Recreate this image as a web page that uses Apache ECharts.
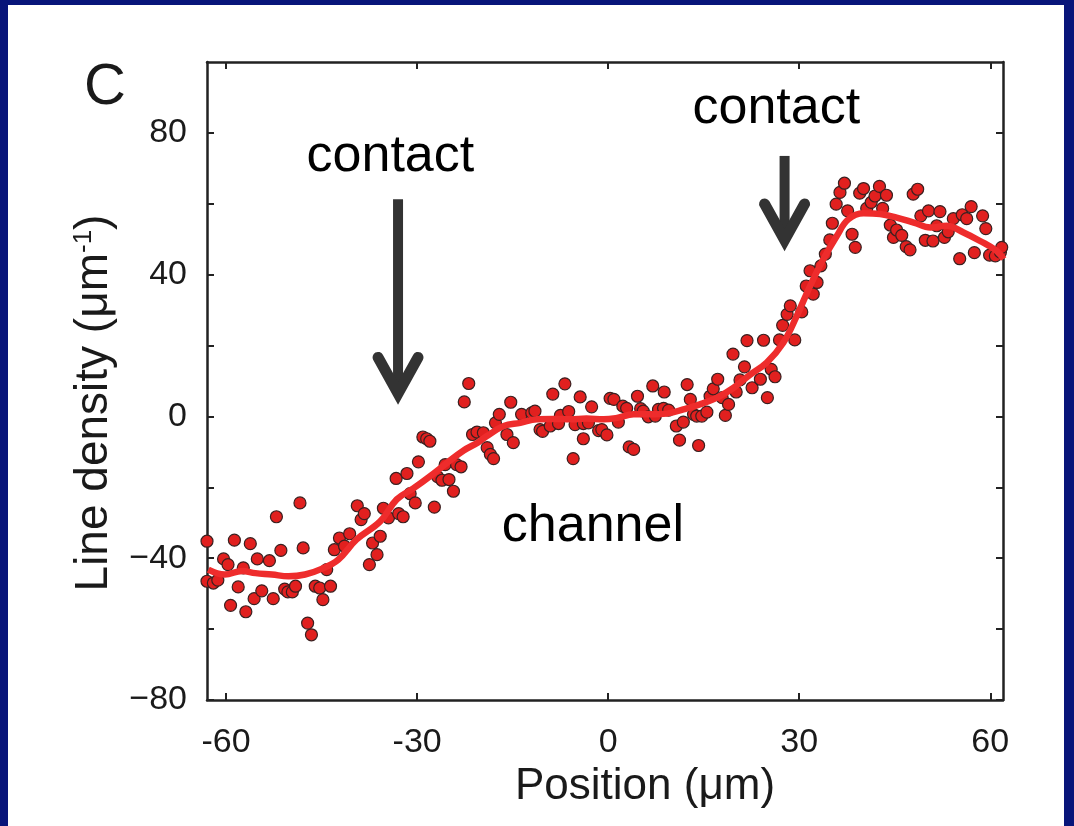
<!DOCTYPE html>
<html>
<head>
<meta charset="utf-8">
<script src="https://cdn.jsdelivr.net/npm/echarts@6/dist/echarts.min.js"></script>
<style>
  html, body { margin: 0; padding: 0; width: 1074px; height: 826px; overflow: hidden; background: #08157a; }
  #chart { position: absolute; left: 8px; top: 5px; width: 1056px; height: 821px; background: #ffffff; }
</style>
</head>
<body>
<div id="chart"></div>
<script>
// Measured line density along the cell (scatter)
const posX = [
  -63.0, -63.0, -62.0, -61.3, -60.4, -59.7, -59.3, -58.7, -58.1, -57.3,
  -56.9, -56.2, -55.6, -55.1, -54.4, -53.2, -52.6, -52.1, -51.4, -50.8,
  -50.3, -49.6, -49.1, -48.4, -47.9, -47.2, -46.6, -46.0, -45.3, -44.8,
  -44.2, -43.6, -43.0, -42.2, -41.4, -40.6, -39.4, -38.8, -38.3, -37.5,
  -37.0, -36.3, -35.8, -35.3, -34.5, -33.3, -32.9, -32.2, -31.6, -31.1,
  -30.3, -29.8, -29.1, -28.5, -28.0, -27.3, -26.8, -26.1, -25.6, -25.0,
  -24.3, -23.8, -23.1, -22.6, -21.9, -21.3, -20.6, -19.6, -19.0, -18.5,
  -18.0, -17.7, -17.1, -15.9, -15.3, -14.9, -13.6, -12.0, -11.5, -10.7,
  -10.3, -9.1, -8.7, -7.8, -7.5, -6.8, -6.2, -5.5, -5.2, -4.4,
  -3.9, -3.9, -3.1, -2.6, -1.5, -1.0, -0.2, 0.3, 0.9, 1.6,
  2.3, 2.9, 3.3, 4.0, 4.6, 5.1, 5.5, 6.3, 7.0, 7.4,
  7.9, 8.7, 8.8, 9.5, 10.7, 11.2, 11.8, 12.4, 12.9, 13.4,
  13.9, 14.2, 14.7, 15.5, 16.0, 16.5, 17.2, 17.9, 18.4, 18.9,
  19.6, 20.1, 20.7, 21.4, 21.8, 22.6, 23.9, 24.4, 25.0, 25.6,
  26.2, 26.9, 27.4, 28.1, 28.6, 29.3, 30.4, 31.1, 31.7, 32.2,
  32.8, 33.4, 34.1, 34.8, 35.2, 35.8, 36.4, 37.1, 37.6, 38.3,
  38.8, 39.5, 40.1, 40.6, 41.3, 41.9, 42.6, 43.1, 43.7, 44.3,
  44.8, 45.3, 46.1, 46.8, 47.4, 47.9, 48.6, 49.1, 49.8, 50.3,
  51.0, 51.6, 52.1, 52.8, 53.4, 54.2, 55.2, 55.6, 56.3, 57.0,
  57.5, 58.8, 59.3, 59.9, 60.8, 61.6, 61.8, 62.1
];
const densY = [
  -35.2, -46.5, -47.0, -46.2, -40.2, -41.8, -53.3, -34.9, -48.1, -42.7,
  -55.1, -35.9, -51.4, -40.2, -49.2, -40.7, -51.4, -28.3, -37.8, -48.7,
  -49.5, -49.5, -47.9, -24.4, -37.1, -58.3, -61.6, -47.9, -48.4, -51.7,
  -43.2, -47.9, -37.6, -34.3, -36.6, -33.1, -25.2, -29.1, -27.4, -41.8,
  -35.7, -39.0, -33.8, -25.9, -28.6, -17.5, -27.4, -28.3, -16.1, -21.8,
  -24.4, -12.8, -5.8, -6.3, -7.0, -25.6, -17.0, -18.0, -13.6, -17.8,
  -21.1, -13.6, -14.2, 4.1, 9.3, -5.1, -4.4, -4.6, -8.8, -10.7,
  -11.9, -1.8, 0.6, -5.1, 4.0, -7.4, 0.6, 1.0, 1.5, -3.7,
  -4.2, -2.7, 6.3, -2.0, 0.3, 9.2, 1.4, -11.9, -2.3, 5.5,
  -2.0, -6.3, -1.8, 2.7, -4.0, -3.7, -5.2, 5.1, 4.8, -1.6,
  2.9, 2.3, -8.6, -9.3, 5.7, 2.2, 1.5, -0.1, 8.6, 0.1,
  2.0, 2.3, 6.9, 1.8, -2.7, -6.7, -1.6, 9.0, 4.8, 0.6,
  0.1, -8.2, 0.1, 1.2, 5.7, 7.8, 10.5, 5.3, 0.3, 3.4,
  17.6, 6.9, 10.3, 14.0, 21.4, 8.1, 10.5, 21.5, 5.3, 13.3,
  11.2, 21.6, 25.7, 28.8, 31.2, 21.6, 29.5, 36.8, 41.1, 34.5,
  37.8, 42.5, 45.8, 49.8, 54.5, 59.9, 63.2, 65.8, 58.0, 51.4,
  47.7, 63.0, 64.3, 58.7, 60.4, 62.2, 64.9, 58.7, 62.4, 54.0,
  50.5, 52.6, 51.1, 47.9, 47.0, 62.7, 64.1, 56.6, 49.7, 58.0,
  49.5, 53.8, 57.8, 50.5, 52.1, 55.8, 44.5, 56.9, 55.8, 59.2,
  46.2, 56.6, 53.0, 45.5, 45.3, 46.4, 47.7, 36.4
];

// Smoothed profile (red curve)
const fitX = [
  -62.8, -60.2, -57.5, -55.4, -52.8, -50.2, -47.6, -45.0, -42.4, -39.5,
  -35.8, -33.2, -30.6, -28.0, -25.3, -22.7, -20.5, -19.1, -16.4, -13.8,
  -11.2, -8.6, -6.0, -3.4, -0.7, 1.4, 4.0, 6.6, 9.2, 11.8,
  14.4, 17.1, 19.7, 22.3, 24.9, 27.5, 29.6, 31.7, 33.8, 35.9,
  37.7, 40.1, 42.7, 45.3, 48.0, 50.6, 53.2, 55.8, 58.4, 61.0, 62.1
];
const fitY = [
  -43.2, -44.6, -43.6, -44.2, -44.6, -45.1, -44.6, -43.0, -40.4, -34.7,
  -29.6, -23.4, -20.3, -16.9, -13.1, -9.6, -7.4, -5.6, -2.7, -1.8,
  -0.8, -0.7, -0.8, -0.6, -0.8, -0.4, 0.6, 0.6, 0.8, 2.0,
  3.4, 5.3, 8.1, 11.8, 15.2, 20.8, 28.3, 36.8, 44.4, 50.9,
  55.6, 57.3, 57.1, 56.1, 54.7, 53.3, 53.8, 51.9, 49.5, 46.7, 44.4
];

// Axis ticks and labels
const xTicks = [-60, -30, 0, 30, 60];
const yTicks = [-80, -60, -40, -20, 0, 20, 40, 60, 80];
const yLabels = [-80, -40, 0, 40, 80];

// Text annotations: [x, y] in data units
const annotations = [
  { text: 'contact', at: [-34.2, 73.4] },
  { text: 'contact', at: [26.4, 86.7] },
  { text: 'channel', at: [-2.4, -31.1] }
];
// Arrows: x, top of shaft, tip (data units)
const arrows = [
  { x: -33.0, top: 61.3, tip: 3.4 },
  { x: 27.7, top: 73.5, tip: 46.7 }
];

const FONT = '"Liberation Sans", Arial, Helvetica, sans-serif';
const INK = '#1a1a1a';
const AXIS = { onZero: false, lineStyle: { color: '#222', width: 2.5 } };

const scatterData = posX.map((x, i) => [x, densY[i]]);
const fitData = fitX.map((x, i) => [x, fitY[i]]);

const chart = echarts.init(document.getElementById('chart'), null, { renderer: 'canvas' });

function fmtY(v) {
  return v < 0 ? '\u2212' + Math.abs(v) : String(v);
}

const tickStyle = { inside: true, length: 7, lineStyle: { color: '#222', width: 2 } };

chart.setOption({
  animation: false,
  backgroundColor: '#ffffff',
  textStyle: { fontFamily: FONT },
  grid: { left: 199, top: 57, right: 61, bottom: 126, containLabel: false },
  xAxis: [
    {
      type: 'value', min: -63, max: 62, position: 'bottom',
      axisLine: AXIS,
      axisTick: Object.assign({ customValues: xTicks }, tickStyle),
      axisLabel: { customValues: xTicks, fontSize: 34, color: INK, margin: 26, fontFamily: FONT },
      splitLine: { show: false },
      name: 'Position (\u03bcm)',
      nameLocation: 'middle',
      nameGap: 60,
      nameTextStyle: { fontSize: 44, color: INK, fontFamily: FONT, padding: [0, 0, 0, 80] }
    },
    {
      type: 'value', min: -63, max: 62, position: 'top',
      axisLine: AXIS,
      axisTick: Object.assign({ customValues: xTicks }, tickStyle),
      axisLabel: { show: false },
      splitLine: { show: false }
    }
  ],
  yAxis: [
    {
      type: 'value', min: -80, max: 100, position: 'left',
      axisLine: AXIS,
      axisTick: Object.assign({ customValues: yTicks }, tickStyle),
      axisLabel: { customValues: yLabels, fontSize: 34, color: INK, margin: 20, formatter: fmtY, fontFamily: FONT },
      splitLine: { show: false },
      name: 'Line density (\u03bcm{sup|-1})',
      nameLocation: 'middle',
      nameGap: 90,
      nameRotate: 90,
      nameTextStyle: {
        fontSize: 46, color: INK, fontFamily: FONT, padding: [0, 44, 0, 0],
        rich: { sup: { fontSize: 26, color: INK, fontFamily: FONT, verticalAlign: 'top', padding: [0, 0, 16, 0] } }
      }
    },
    {
      type: 'value', min: -80, max: 100, position: 'right',
      axisLine: AXIS,
      axisTick: Object.assign({ customValues: yTicks }, tickStyle),
      axisLabel: { show: false },
      splitLine: { show: false }
    }
  ],
  series: [
    {
      type: 'scatter',
      data: scatterData,
      symbolSize: 12,
      itemStyle: { color: '#e1201f', borderColor: '#3a2020', borderWidth: 1.2, opacity: 1 },
      z: 3
    },
    {
      type: 'line',
      data: fitData,
      smooth: 0.4,
      showSymbol: false,
      symbol: 'none',
      lineStyle: { color: '#ee2c2c', width: 6.5 },
      z: 4
    }
  ]
});

// Annotations placed through the grid's coordinate system
function drawAnnotations() {
  const elements = [];
  elements.push({
    type: 'text', left: 76, top: 54, z: 10,
    style: { text: 'C', fontSize: 58, fill: INK, fontFamily: FONT }
  });
  annotations.forEach(a => {
    const p = chart.convertToPixel({ gridIndex: 0 }, a.at);
    elements.push({
      type: 'text', x: p[0], y: p[1], z: 10,
      style: { text: a.text, fontSize: 52, fill: '#000', fontFamily: FONT, align: 'center', verticalAlign: 'middle' }
    });
  });
  arrows.forEach(a => {
    const top = chart.convertToPixel({ gridIndex: 0 }, [a.x, a.top]);
    const tip = chart.convertToPixel({ gridIndex: 0 }, [a.x, a.tip]);
    const tx = tip[0], ty = tip[1] - 11;
    elements.push({
      type: 'polyline', z: 10,
      shape: { points: [[top[0], top[1]], [tx, ty]] },
      style: { stroke: '#333', lineWidth: 10, lineCap: 'butt', fill: null }
    });
    elements.push({
      type: 'polyline', z: 10,
      shape: { points: [[tx - 20, ty - 36], [tx, ty], [tx + 20, ty - 36]] },
      style: { stroke: '#333', lineWidth: 11, lineCap: 'round', lineJoin: 'miter', miterLimit: 10, fill: null }
    });
  });
  chart.setOption({ graphic: elements });
}
drawAnnotations();
</script>
</body>
</html>
